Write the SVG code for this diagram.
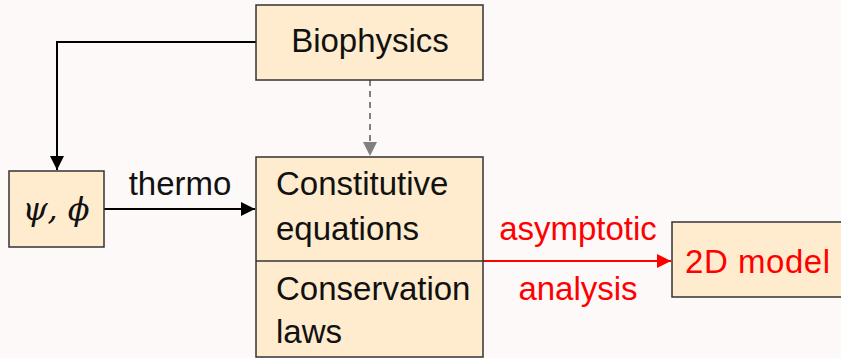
<svg xmlns="http://www.w3.org/2000/svg" width="841" height="358" viewBox="0 0 841 358">
<style>
.box{fill:#ffebcd;stroke:#333;stroke-width:1.5}
.t{font-family:"Liberation Sans",Arial,sans-serif;font-size:33px;fill:#111}
.r{fill:#ff0000}
</style>
<defs>
<marker id="ab" viewBox="0 0 10 10" refX="10" refY="5" markerWidth="7" markerHeight="7" markerUnits="strokeWidth" orient="auto"><path d="M0,0L10,5L0,10z" fill="#000"/></marker>
<marker id="ag" viewBox="0 0 10 10" refX="10" refY="5" markerWidth="7" markerHeight="7" markerUnits="strokeWidth" orient="auto"><path d="M0,0L10,5L0,10z" fill="#808080"/></marker>
<marker id="ar" viewBox="0 0 10 10" refX="10" refY="5" markerWidth="7" markerHeight="7" markerUnits="strokeWidth" orient="auto"><path d="M0,0L10,5L0,10z" fill="#ff0000"/></marker>
</defs>
<rect width="841" height="358" fill="#fdf9f8"/>
<g id="connectors" fill="none" stroke-width="2">
<path d="M256,42H57V170" stroke="#000" marker-end="url(#ab)"/>
<path d="M370,80V156" stroke="#808080" stroke-dasharray="6,5" marker-end="url(#ag)"/>
<path d="M104,209H255" stroke="#000" marker-end="url(#ab)"/>
<path d="M483,261H671" stroke="#ff0000" marker-end="url(#ar)"/>
<text class="t" x="180" y="195" text-anchor="middle" stroke="none">thermo</text>
<text class="t r" x="578" y="240" text-anchor="middle" stroke="none">asymptotic</text>
<text class="t r" x="578" y="300" text-anchor="middle" stroke="none">analysis</text>
</g>
<g id="biophysics">
<rect class="box" x="256" y="5" width="227" height="75"/>
<text class="t" x="370" y="52" text-anchor="middle">Biophysics</text>
</g>
<g id="psiphi">
<rect class="box" x="9" y="171" width="95" height="76"/>
<text x="56" y="220" text-anchor="middle" font-family="'DejaVu Serif','Liberation Serif',serif" font-style="italic" font-size="32" fill="#111">ψ, ϕ</text>
</g>
<g id="equations">
<rect class="box" x="256" y="157" width="227" height="200"/>
<line x1="256" y1="261" x2="483" y2="261" stroke="#333" stroke-width="1.5"/>
<text class="t" x="276" y="195">Constitutive</text>
<text class="t" x="276" y="240">equations</text>
<text class="t" x="276" y="300">Conservation</text>
<text class="t" x="276" y="343">laws</text>
</g>
<g id="model2d">
<rect class="box" x="672" y="222" width="175" height="75"/>
<text class="t r" x="685" y="273" textLength="145">2D model</text>
</g>
</svg>
